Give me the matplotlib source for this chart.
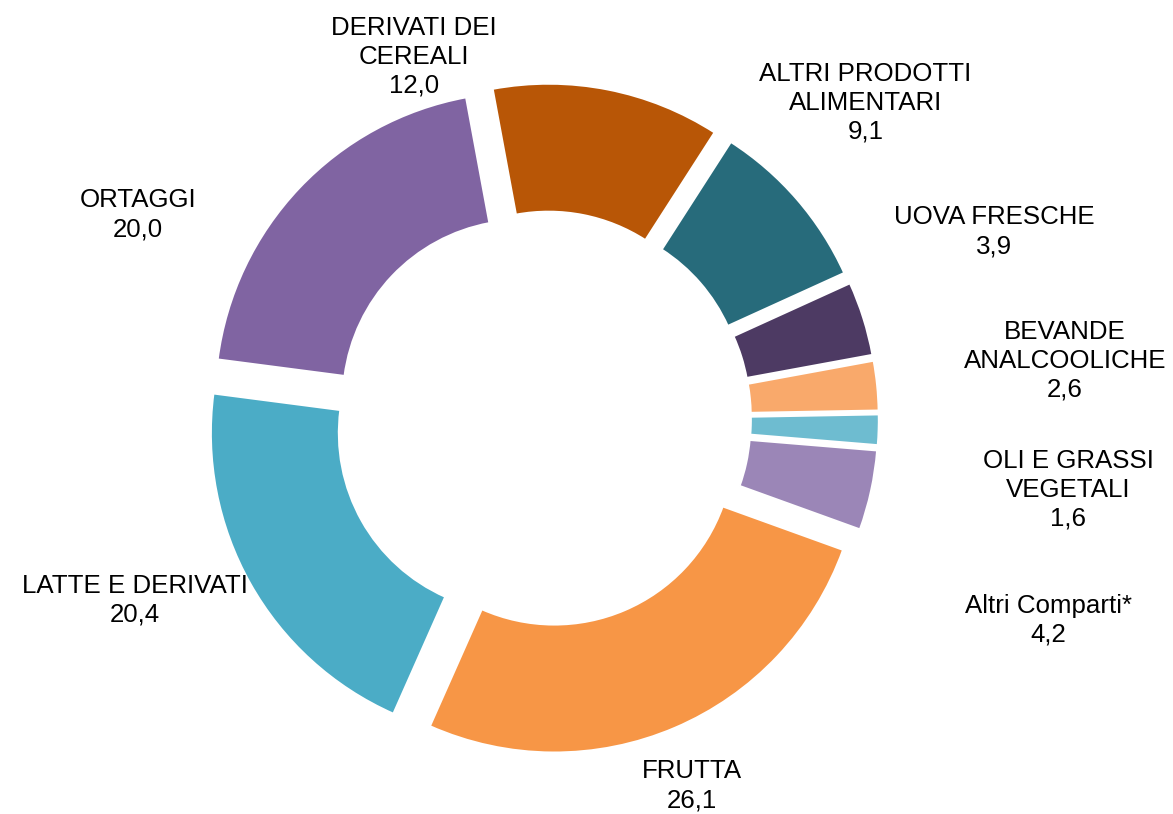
import matplotlib
matplotlib.use("Agg")
import matplotlib.pyplot as plt

plt.rcParams['font.family'] = ['Liberation Sans', 'DejaVu Sans']

# data, clockwise from the top
labels = ['DERIVATI DEI\nCEREALI', 'ALTRI PRODOTTI\nALIMENTARI', 'UOVA FRESCHE',
          'BEVANDE\nANALCOOLICHE', 'OLI E GRASSI\nVEGETALI', 'Altri Comparti*',
          'FRUTTA', 'LATTE E DERIVATI', 'ORTAGGI']
values = [12.0, 9.1, 3.9, 2.6, 1.6, 4.2, 26.1, 20.4, 20.0]
colors = ['#B85606', '#276B7B', '#4D3A63', '#F9A96B', '#6EBCD0', '#9B86B7',
          '#F79646', '#4BACC6', '#8064A2']

# label anchor points (data units, radius = 1)
label_pos = [(-0.42, 1.18), (1.05, 1.03), (1.47, 0.61), (1.70, 0.19), (1.71, -0.23),
             (1.645, -0.655), (0.485, -1.195), (-1.33, -0.59), (-1.32, 0.665)]

fig = plt.figure(figsize=(11.73, 8.14), dpi=100)
ax = fig.add_axes([0, 0, 1, 1])

ax.pie(values, colors=colors, startangle=100.5, counterclock=False,
       explode=[0.094] * len(values), radius=1.0,
       wedgeprops=dict(width=0.417, edgecolor='white', linewidth=1.5))

for lab, v, (x, y) in zip(labels, values, label_pos):
    txt = lab + '\n' + f"{v:.1f}".replace('.', ',')
    ax.text(x, y, txt, ha='center', va='center', fontsize=18.6,
            linespacing=1.25, color='black')

ax.set_xlim(-543 / 307, (1173 - 543) / 307)
ax.set_ylim((419 - 814) / 307, 419 / 307)
ax.set_aspect('equal')
ax.axis('off')

fig.savefig('out.png', dpi=100)
